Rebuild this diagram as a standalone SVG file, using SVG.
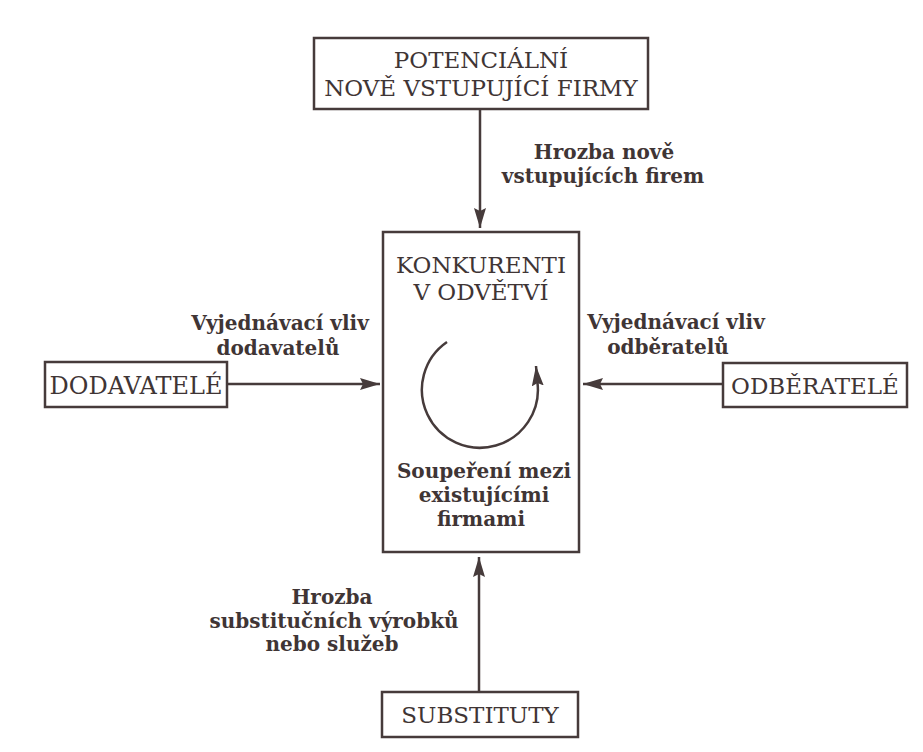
<svg xmlns="http://www.w3.org/2000/svg" width="923" height="752" viewBox="0 0 923 752">
<defs>
<marker id="ah" markerWidth="22" markerHeight="12" refX="20" refY="6" orient="auto" markerUnits="userSpaceOnUse">
<path d="M0,0 L20,6 L0,12 L3,6 Z" fill="#463b3b"/>
</marker>
<style>
.box{fill:none;stroke:#463b3b;stroke-width:2.5}
.bt{font-family:"DejaVu Serif","Liberation Serif",serif;font-size:23px;fill:#3f3535;text-anchor:middle}
.lb{font-family:"DejaVu Serif","Liberation Serif",serif;font-size:20px;font-weight:bold;fill:#3f3535;text-anchor:middle}
.ln{fill:none;stroke:#463b3b;stroke-width:2.5;marker-end:url(#ah)}
</style>
</defs>
<rect width="923" height="752" fill="#ffffff"/>
<g id="connectors">
<line class="ln" x1="480" y1="109" x2="480" y2="228"/>
<line class="ln" x1="227" y1="384" x2="380" y2="384"/>
<line class="ln" x1="723" y1="384" x2="583" y2="384"/>
<line class="ln" x1="479" y1="692" x2="479" y2="557"/>
<path class="ln" d="M447,342 A58,58 0 1 0 537.5,383 L536,366"/>
</g>
<g id="potencialni">
<rect class="box" x="314" y="38" width="334" height="71"/>
<text class="bt" x="481" y="68">POTENCIÁLNÍ</text>
<text class="bt" x="481" y="96">NOVĚ VSTUPUJÍCÍ FIRMY</text>
</g>
<g id="konkurenti">
<rect class="box" x="383" y="232" width="196" height="320"/>
<text class="bt" x="481" y="273">KONKURENTI</text>
<text class="bt" x="481" y="300">V ODVĚTVÍ</text>
<text class="lb" x="484" y="478">Soupeření mezi</text>
<text class="lb" x="484" y="502">existujícími</text>
<text class="lb" x="481" y="526">firmami</text>
</g>
<g id="dodavatele">
<rect class="box" x="45" y="362" width="182" height="45"/>
<text class="bt" x="136" y="394" style="font-size:24px">DODAVATELÉ</text>
</g>
<g id="odberatele">
<rect class="box" x="723" y="363" width="184" height="44"/>
<text class="bt" x="815" y="394">ODBĚRATELÉ</text>
</g>
<g id="substituty">
<rect class="box" x="382" y="692" width="196" height="45"/>
<text class="bt" x="480" y="723">SUBSTITUTY</text>
</g>
<g id="labels">
<text class="lb" x="604" y="159">Hrozba nově</text>
<text class="lb" x="603" y="183">vstupujících firem</text>
<text class="lb" x="280" y="330">Vyjednávací vliv</text>
<text class="lb" x="278" y="355">dodavatelů</text>
<text class="lb" x="676" y="329">Vyjednávací vliv</text>
<text class="lb" x="668" y="354">odběratelů</text>
<text class="lb" x="332" y="604">Hrozba</text>
<text class="lb" x="334" y="628">substitučních výrobků</text>
<text class="lb" x="332" y="651">nebo služeb</text>
</g>
</svg>
